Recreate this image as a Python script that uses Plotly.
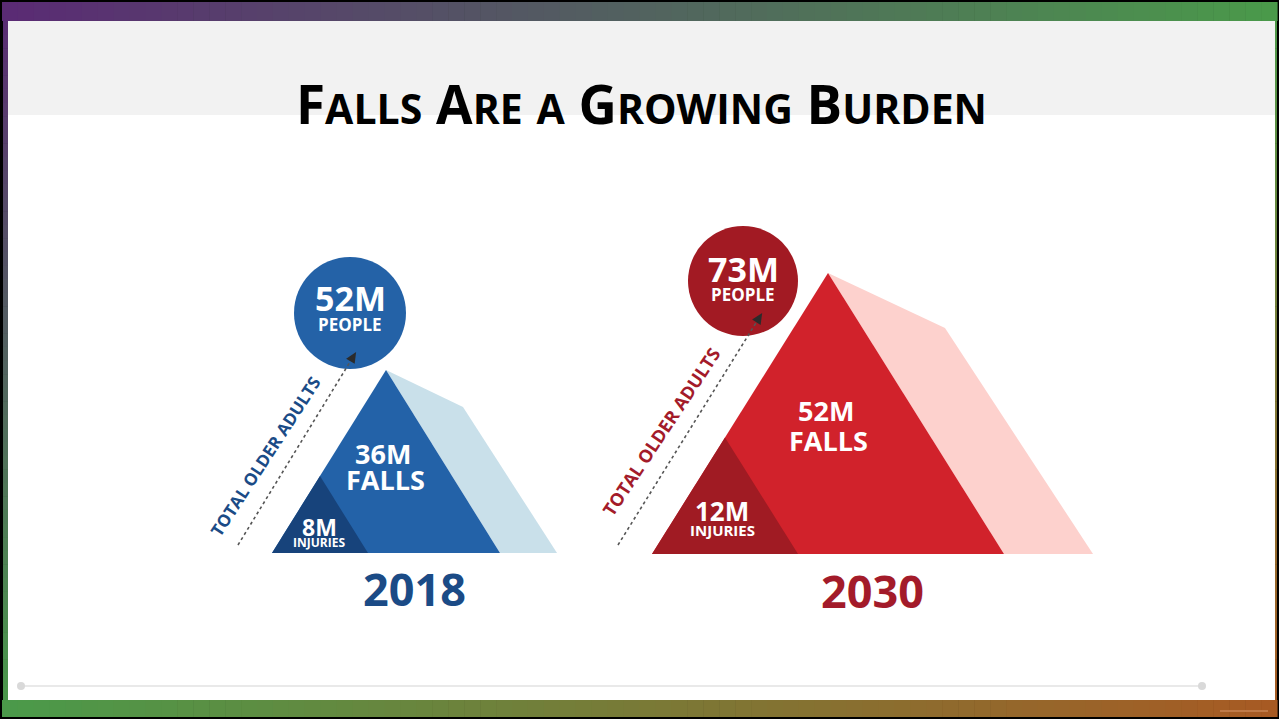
import math
import plotly.graph_objects as go

# ---------------- data ----------------
years = ["2018", "2030"]
people_m = [52, 73]          # total older adults (millions)
falls_m = [36, 52]           # falls (millions)
injuries_m = [8, 12]         # fall injuries (millions)
side_label = "TOTAL OLDER ADULTS"
title_words = ["Falls", "Are", "a", "Growing", "Burden"]

# ---------------- styling / layout constants ----------------
W, H = 1279, 719
palettes = [
    dict(main="#2362a8", dark="#17437b", shadow="#c9e0ea", circle="#2462a7", text="#1b4b86"),
    dict(main="#d1222b", dark="#a01b23", shadow="#fdd1cd", circle="#a21a23", text="#a31b2a"),
]
# text blocks: (x, y_first_line, y_second_line, size_first, size_second)
geom = [
    dict(apex=(386, 370), base_l=272, base_r=500, base_y=553, inj_r=368,
         shadow_top=(463, 407), shadow_r=557,
         circle=(350, 313, 56), line=((238, 545), (353, 357)),
         side_c=(265, 456), side_angle=-57, side_size=17,
         people=(350, 298, 324, 34, 17), falls=(383, 453, 479, 27, 27),
         inj=(319, 527, 542, 23, 12), year=(414, 588)),
    dict(apex=(828, 273), base_l=652, base_r=1004, base_y=554, inj_r=798,
         shadow_top=(945, 328), shadow_r=1093,
         circle=(743, 281, 55), line=((618, 545), (759, 318)),
         side_c=(661, 432), side_angle=-56.5, side_size=18,
         people=(743, 269, 294, 34, 17), falls=(826, 410, 440, 27, 27),
         inj=(722, 511, 530, 26, 15), year=(872, 590)),
]

P = (90, 42, 116)   # purple top-left
G = (74, 154, 74)   # green top-right / bottom-left
B = (168, 90, 35)   # brown bottom-right


def grad(x, y):
    u, v = x / W, y / H
    c = [P[i] * (1 - u) * (1 - v) + G[i] * u * (1 - v) + G[i] * (1 - u) * v + B[i] * u * v for i in range(3)]
    return "rgb(%d,%d,%d)" % tuple(int(round(t)) for t in c)


shapes = []
# gradient frame
n = 80
for k in range(n):
    x0 = 2 + k * (W - 4) / n
    x1 = 2 + (k + 1) * (W - 4) / n + 0.6
    xm = (x0 + x1) / 2
    shapes.append(dict(type="rect", x0=x0, x1=x1, y0=2, y1=21, fillcolor=grad(xm, 0), line_width=0, layer="below"))
    shapes.append(dict(type="rect", x0=x0, x1=x1, y0=700, y1=717, fillcolor=grad(xm, H), line_width=0, layer="below"))
m = 50
for k in range(m):
    y0 = 21 + k * (700 - 21) / m
    y1 = 21 + (k + 1) * (700 - 21) / m + 0.6
    ym = (y0 + y1) / 2
    shapes.append(dict(type="rect", x0=3, x1=8, y0=y0, y1=y1, fillcolor=grad(0, ym), line_width=0, layer="below"))
    shapes.append(dict(type="rect", x0=1275, x1=1277, y0=y0, y1=y1, fillcolor=grad(W, ym), line_width=0, layer="below"))
# inner panel
shapes.append(dict(type="rect", x0=8, x1=1275, y0=21, y1=115, fillcolor="#f2f2f2", line_width=0, layer="below"))
shapes.append(dict(type="rect", x0=8, x1=1275, y0=115, y1=700, fillcolor="#ffffff", line_width=0, layer="below"))
# footer slider-like rule
shapes.append(dict(type="line", x0=21, x1=1202, y0=686, y1=686, line=dict(color="#e9e9e9", width=2), layer="below"))
for cx in (21, 1202):
    shapes.append(dict(type="circle", x0=cx - 4, x1=cx + 4, y0=682, y1=690, fillcolor="#d9d9d9", line_width=0, layer="below"))
shapes.append(dict(type="line", x0=1220, x1=1268, y0=711, y1=711, line=dict(color="#bf7a48", width=2), layer="below"))

fig = go.Figure()
annotations = []
FONT = "Open Sans"


def label(x, y, text, size, color="white"):
    return dict(x=x, y=y, text="<b>%s</b>" % text, font=dict(family=FONT, size=size, color=color))


for i in range(len(years)):
    g, c = geom[i], palettes[i]
    ax, ay = g["apex"]
    by = g["base_y"]
    # shadow
    fig.add_trace(go.Scatter(
        x=[ax, g["shadow_top"][0], g["shadow_r"], g["base_r"], ax],
        y=[ay, g["shadow_top"][1], by, by, ay],
        fill="toself", fillcolor=c["shadow"], mode="lines", line=dict(width=0, color=c["shadow"]),
        hoverinfo="skip", showlegend=False))
    # falls triangle
    fig.add_trace(go.Scatter(
        x=[g["base_l"], ax, g["base_r"], g["base_l"]], y=[by, ay, by, by],
        fill="toself", fillcolor=c["main"], mode="lines", line=dict(width=0, color=c["main"]),
        hoverinfo="skip", showlegend=False))
    # injuries triangle (similar, sharing the left base corner)
    s = (g["inj_r"] - g["base_l"]) / (g["base_r"] - g["base_l"])
    iax = g["base_l"] + (ax - g["base_l"]) * s
    iay = by - (by - ay) * s
    fig.add_trace(go.Scatter(
        x=[g["base_l"], iax, g["inj_r"], g["base_l"]], y=[by, iay, by, by],
        fill="toself", fillcolor=c["dark"], mode="lines", line=dict(width=0, color=c["dark"]),
        hoverinfo="skip", showlegend=False))
    # circle
    cx, cy, r = g["circle"]
    shapes.append(dict(type="circle", x0=cx - r, x1=cx + r, y0=cy - r, y1=cy + r,
                       fillcolor=c["circle"], line_width=0, layer="below"))
    # dotted leader line + arrowhead
    (lx0, ly0), (lx1, ly1) = g["line"]
    fig.add_trace(go.Scatter(x=[lx0, lx1], y=[ly0, ly1], mode="lines",
                             line=dict(color="#555555", width=1.6, dash="dot"),
                             hoverinfo="skip", showlegend=False))
    L = math.hypot(lx1 - lx0, ly1 - ly0)
    dx, dy = (lx1 - lx0) / L, (ly1 - ly0) / L
    nx, ny = -dy, dx
    tip = (lx1 + 6 * dx, ly1 + 6 * dy)
    bc = (lx1 - 5 * dx, ly1 - 5 * dy)
    fig.add_trace(go.Scatter(
        x=[tip[0], bc[0] + 5 * nx, bc[0] - 5 * nx, tip[0]],
        y=[tip[1], bc[1] + 5 * ny, bc[1] - 5 * ny, tip[1]],
        fill="toself", fillcolor="#2b2b2b", mode="lines", line=dict(width=0, color="#2b2b2b"),
        hoverinfo="skip", showlegend=False))

    px, py1, py2, ps1, ps2 = g["people"]
    annotations.append(label(px, py1, "%dM" % people_m[i], ps1))
    annotations.append(label(px, py2, "PEOPLE", ps2))
    fx, fy1, fy2, fs1, fs2 = g["falls"]
    annotations.append(label(fx, fy1, "%dM" % falls_m[i], fs1))
    annotations.append(label(fx + 2, fy2, "FALLS", fs2))
    ix, iy1, iy2, is1, is2 = g["inj"]
    annotations.append(label(ix, iy1, "%dM" % injuries_m[i], is1))
    annotations.append(label(ix, iy2, "INJURIES", is2))
    yx, yy = g["year"]
    annotations.append(label(yx, yy, years[i], 45, c["text"]))
    sx, sy = g["side_c"]
    a = label(sx, sy, side_label, g["side_size"], c["text"])
    a["textangle"] = g["side_angle"]
    annotations.append(a)

# title in small caps
parts = []
for w in title_words:
    first, rest = w[0], w[1:]
    if first.isupper():
        parts.append(first + "<span style='font-size:41px'>%s</span>" % rest.upper())
    else:
        parts.append("<span style='font-size:41px'>%s</span>" % w.upper())
title_html = "<b>" + " ".join(parts) + "</b>"
annotations.append(dict(x=641, y=103, text=title_html,
                        font=dict(family="Open Sans", size=53, color="black")))

for a in annotations:
    a.update(xref="x", yref="y", showarrow=False, xanchor="center", yanchor="middle")

fig.update_layout(
    width=W, height=H, margin=dict(l=0, r=0, t=0, b=0),
    paper_bgcolor="#000000", plot_bgcolor="rgba(0,0,0,0)",
    xaxis=dict(range=[0, W], visible=False, fixedrange=True),
    yaxis=dict(range=[H, 0], visible=False, fixedrange=True),
    shapes=shapes, annotations=annotations, showlegend=False,
)
fig.write_html("out.html", config={"displayModeBar": False})
